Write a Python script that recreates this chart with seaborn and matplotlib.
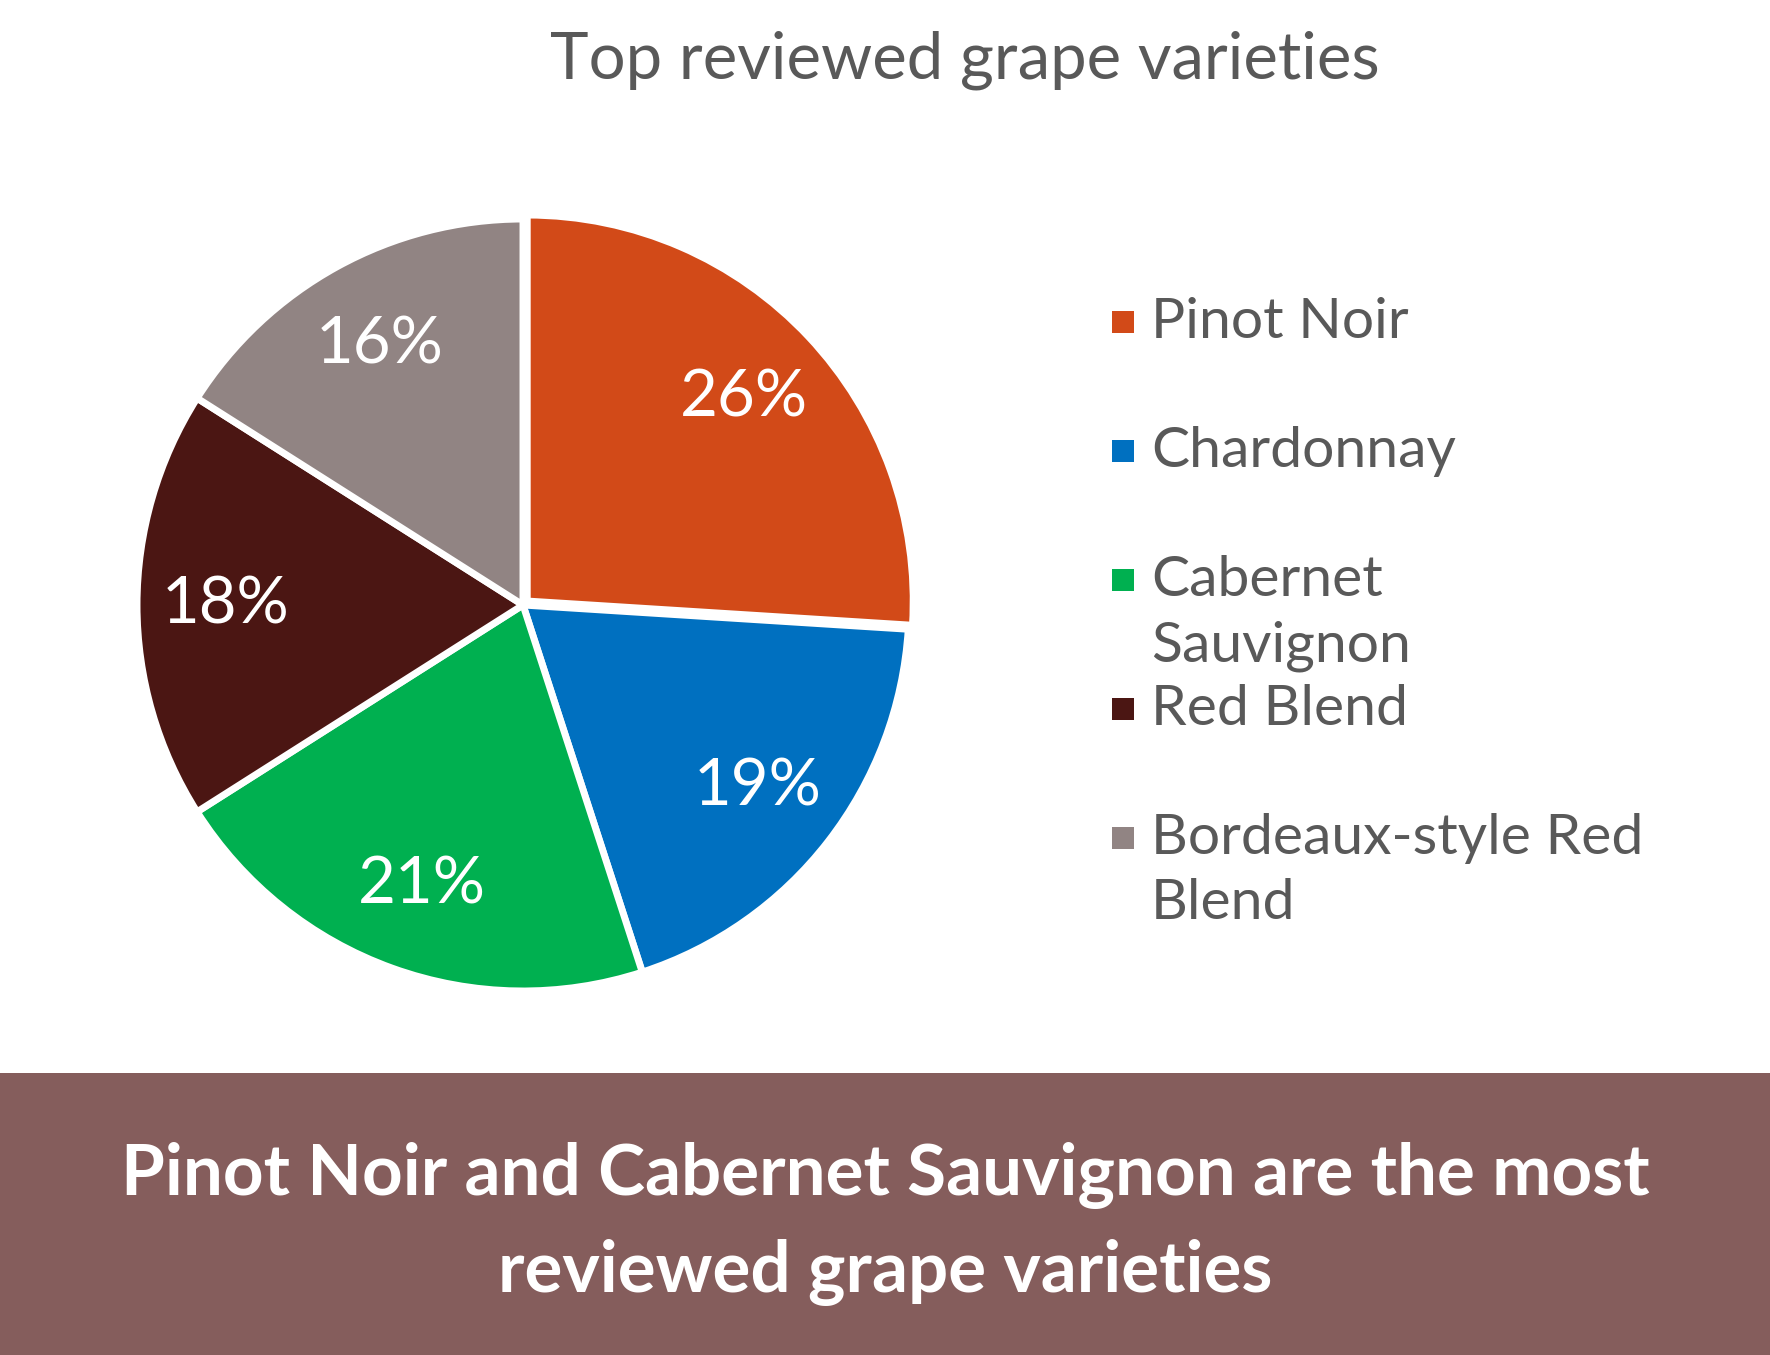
import matplotlib
matplotlib.use('Agg')
import matplotlib.pyplot as plt
from matplotlib.patches import Rectangle
import seaborn as sns


# Share of reviews for the top five grape varieties (percent)
varieties = ['Pinot Noir', 'Chardonnay', 'Cabernet Sauvignon', 'Red Blend',
             'Bordeaux-style Red Blend']
shares = [26, 19, 21, 18, 16]
legend_labels = ['Pinot Noir', 'Chardonnay', 'Cabernet\nSauvignon', 'Red Blend',
                 'Bordeaux-style Red\nBlend']
colors = ['#D24A18', '#0070C0', '#00B050', '#4B1613', '#918483']

title = 'Top reviewed grape varieties'
takeaway = 'Pinot Noir and Cabernet Sauvignon are the most\nreviewed grape varieties'

sns.set_theme(style='white')
plt.rcParams['font.family'] = ['Lato', 'DejaVu Sans']

W, H = 1770, 1355
fig = plt.figure(figsize=(W / 100, H / 100), dpi=100)
fig.patch.set_facecolor('white')

# pie: centre (523, 605) px from top-left, radius ~386 px
lim = 1.03
size = 2 * lim * 386
ax = fig.add_axes([(523 - size / 2) / W, (H - 605 - size / 2) / H, size / W, size / H])
explode = [0.015, 0, 0, 0, 0]
wedges, _, autotexts = ax.pie(shares, colors=colors, startangle=90, counterclock=False,
                              explode=explode, autopct='%.0f%%', pctdistance=0.77,
                              wedgeprops=dict(edgecolor='white', linewidth=5),
                              textprops=dict(color='white', fontsize=47))
ax.set_xlim(-lim, lim)
ax.set_ylim(-lim, lim)
ax.set_aspect('equal')
ax.axis('off')

# title
fig.text(965 / W, 1 - 60 / H, title, ha='center', va='center', fontsize=47,
         color='#595959')

# legend, one square + label per variety
grey = '#595959'
for i, (lab, col) in enumerate(zip(legend_labels, colors)):
    yc = 322 + i * 129
    fig.add_artist(Rectangle((1112 / W, 1 - (yc + 11) / H), 22 / W, 22 / H,
                             transform=fig.transFigure, color=col, lw=0))
    fig.text(1151 / W, 1 - (yc - 25) / H, lab, ha='left', va='top',
             fontsize=41, color=grey, linespacing=1.35)

# takeaway banner
fig.add_artist(Rectangle((0, 0), 1, (H - 1073) / H, transform=fig.transFigure,
                         color='#855D5C', lw=0))
fig.text(0.5, 1 - 1224 / H, takeaway, ha='center', va='center', fontsize=51,
         color='white', fontweight='bold', linespacing=1.57)

plt.savefig('out.png', dpi=100)
